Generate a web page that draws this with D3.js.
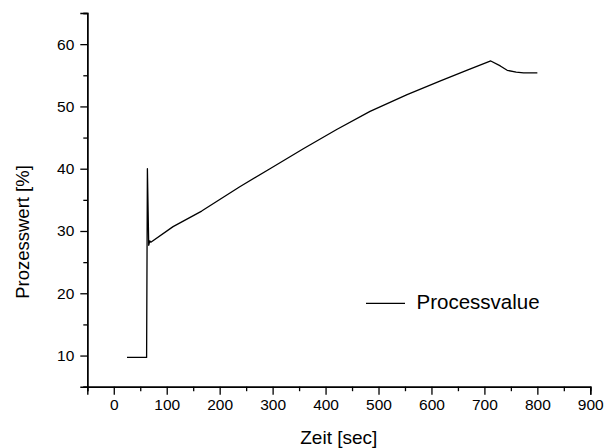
<!DOCTYPE html>
<html><head><meta charset="utf-8">
<script src="https://cdn.jsdelivr.net/npm/d3@7"></script>
<style>body{margin:0;background:#fff}svg{display:block}text{font-family:Arial,"Liberation Sans",sans-serif;fill:#000}</style>
</head><body><svg id="c" width="605" height="448"></svg>
<script>
const timeSec = [25, 62, 63.5, 66, 68, 70, 112, 166, 238, 295, 358, 421, 484, 554, 617, 670, 712, 730, 743, 760, 774, 800];
const processValue = [9.7, 9.7, 40.0, 27.7, 28.4, 28.2, 30.7, 33.2, 37.1, 40.0, 43.2, 46.3, 49.2, 51.9, 54.1, 55.9, 57.3, 56.5, 55.8, 55.5, 55.4, 55.4];
const xTicks = [0, 100, 200, 300, 400, 500, 600, 700, 800, 900];
const yTicks = [10, 20, 30, 40, 50, 60];
const xTitle = "Zeit [sec]";
const yTitle = "Prozesswert [%]";
const legendLabel = "Processvalue";

const svg = d3.select("#c");
const x = d3.scaleLinear().domain([-50, 900]).range([87.3, 590.3]);
const y = d3.scaleLinear().domain([5, 65]).range([386.7, 13]);

// x axis
const gx = svg.append("g").attr("transform", `translate(0,${y(5)})`);
gx.call(d3.axisBottom(x).tickValues(xTicks).tickSize(8).tickPadding(4).tickFormat(d3.format("d")));
gx.append("g").call(d3.axisBottom(x).tickValues(d3.range(-50, 900, 100)).tickSize(4.5).tickFormat(""));
gx.selectAll("text").attr("font-size", 15.5).attr("font-family", "Arial, 'Liberation Sans', sans-serif");
gx.selectAll(".domain").attr("stroke-width", 1.4);
gx.selectAll("line").attr("stroke-width", 1.3);

// y axis
const gy = svg.append("g").attr("transform", `translate(${x(-50)},0)`);
gy.call(d3.axisLeft(y).tickValues(yTicks).tickSize(7).tickPadding(6).tickFormat(d3.format("d")));
gy.append("g").call(d3.axisLeft(y).tickValues(d3.range(5, 66, 10)).tickSize(4).tickFormat(""));
gy.selectAll("text").attr("font-size", 15.5).attr("font-family", "Arial, 'Liberation Sans', sans-serif");
gy.selectAll(".domain").attr("stroke-width", 1.4);
gy.selectAll("line").attr("stroke-width", 1.3);

// titles
svg.append("text").attr("x", 338.8).attr("y", 443.5).attr("text-anchor", "middle").attr("font-size", 19).text(xTitle);
svg.append("text").attr("transform", "translate(29,232) rotate(-90)").attr("text-anchor", "middle").attr("font-size", 18.5).text(yTitle);

// data line
const line = d3.line().x((d, i) => x(timeSec[i])).y(d => y(d));
svg.append("path").datum(processValue).attr("d", line).attr("fill", "none").attr("stroke", "#000").attr("stroke-width", 1.3).attr("stroke-linejoin", "round");

// legend
svg.append("line").attr("x1", 366).attr("x2", 405).attr("y1", 303.3).attr("y2", 303.3).attr("stroke", "#000").attr("stroke-width", 1.2);
svg.append("text").attr("x", 416.5).attr("y", 309).attr("font-size", 20.5).text(legendLabel);
</script></body></html>
